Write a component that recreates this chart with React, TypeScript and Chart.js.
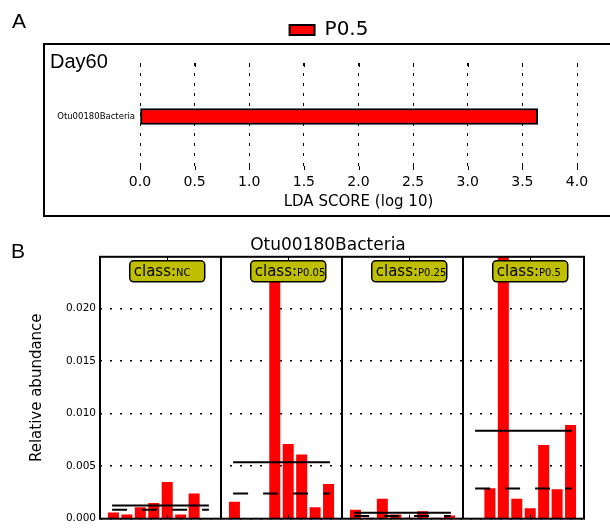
import { useEffect, useRef } from "react";
import { Chart, registerables } from "chart.js";

Chart.register(...registerables);
Chart.defaults.font.family = "'DejaVu Sans', sans-serif";

// ---------- Panel A data (LDA) ----------
const panelATitle = "Day60";
const featureNames = ["Otu00180Bacteria"];
const ldaScores = [3.64];
const ldaClass = ["P0.5"];

// ---------- Panel B data (relative abundance) ----------
const classNames = ["NC", "P0.05", "P0.25", "P0.5"];
const ncAbundance = [0.0006, 0.0004, 0.0011, 0.0015, 0.0035, 0.0004, 0.0024, 0];
const p005Abundance = [0.0016, 0, 0, 0.0237, 0.0071, 0.0061, 0.0011, 0.0033];
const p025Abundance = [0.00085, 0.0001, 0.0019, 0.0004, 0.0001, 0.0007, 0.0001, 0.0003];
const p05Abundance = [0, 0.0029, 0.0422, 0.0019, 0.001, 0.007, 0.0028, 0.0089];
const classMeans = [0.00125, 0.00536, 0.00056, 0.00835];
const classMedians = [0.00085, 0.0024, 0.00025, 0.00288];
const abundanceMax = 0.0249;

const classAbundances = [ncAbundance, p005Abundance, p025Abundance, p05Abundance];
const SLOT = 9; // x units per class panel

const FONT = "'DejaVu Sans', sans-serif";

const panelAPlugin = {
  id: "panelADecor",
  afterDraw(chart: any) {
    const { ctx, chartArea: ca } = chart;
    const xs = chart.scales.x;
    ctx.save();
    ctx.strokeStyle = "#000";
    ctx.lineWidth = 2;
    ctx.strokeRect(44, 44, 700, 172);
    ctx.lineWidth = 1;
    xs.ticks.forEach((t: any) => {
      const px = Math.round(xs.getPixelForValue(t.value)) + 0.5;
      ctx.beginPath();
      ctx.moveTo(px, ca.top);
      ctx.lineTo(px, ca.top + 4);
      ctx.moveTo(px, ca.bottom - 4);
      ctx.lineTo(px, ca.bottom);
      ctx.stroke();
    });
    ctx.fillStyle = "#000";
    ctx.textBaseline = "alphabetic";
    ctx.textAlign = "left";
    ctx.font = "21px 'Liberation Sans', sans-serif";
    ctx.fillText("A", 12, 28);
    ctx.font = "20px 'Liberation Sans', sans-serif";
    ctx.fillText(panelATitle, 50, 68);
    ctx.restore();
  },
};

const panelBPlugin = {
  id: "panelBDecor",
  afterDatasetsDraw(chart: any) {
    const { ctx, chartArea: ca } = chart;
    const xs = chart.scales.x;
    ctx.save();
    // frame
    ctx.strokeStyle = "#000";
    ctx.lineWidth = 2;
    ctx.strokeRect(ca.left, ca.top, ca.right - ca.left, ca.bottom - ca.top);
    // inward ticks at panel centre
    ctx.lineWidth = 1;
    classNames.forEach((_, p) => {
      const px = Math.round(xs.getPixelForValue(p * SLOT + 5)) + 0.5;
      ctx.beginPath();
      ctx.moveTo(px, ca.top);
      ctx.lineTo(px, ca.top + 4);
      ctx.moveTo(px, ca.bottom - 4);
      ctx.lineTo(px, ca.bottom);
      ctx.stroke();
    });
    // class label boxes
    classNames.forEach((name, p) => {
      const cx = xs.getPixelForValue(p * SLOT + 5);
      const w = 75;
      const h = 21;
      const left = cx - w / 2;
      const top = ca.top + 4;
      ctx.beginPath();
      (ctx as any).roundRect(left, top, w, h, 4);
      ctx.fillStyle = "#bfbf00";
      ctx.fill();
      ctx.lineWidth = 1.5;
      ctx.strokeStyle = "#000";
      ctx.stroke();
      ctx.fillStyle = "#000";
      ctx.textBaseline = "alphabetic";
      ctx.textAlign = "left";
      ctx.font = `15px ${FONT}`;
      ctx.fillText("class:", left + 4, top + 15.5);
      const cw = ctx.measureText("class:").width;
      ctx.font = `10px ${FONT}`;
      ctx.fillText(name, left + 4 + cw, top + 15.5);
    });
    ctx.fillStyle = "#000";
    ctx.font = "21px 'Liberation Sans', sans-serif";
    ctx.textBaseline = "alphabetic";
    ctx.fillText("B", 11, 36);
    ctx.restore();
  },
};

export default function App() {
  const refA = useRef<HTMLCanvasElement>(null);
  const refB = useRef<HTMLCanvasElement>(null);

  useEffect(() => {
    const chartA = new Chart(refA.current as HTMLCanvasElement, {
      type: "bar",
      data: {
        labels: featureNames,
        datasets: [
          {
            label: ldaClass[0],
            data: ldaScores,
            backgroundColor: "#ff0000",
            borderColor: "#000",
            borderWidth: 2,
            borderSkipped: false,
            barThickness: 16,
          } as any,
        ],
      },
      options: {
        indexAxis: "y",
        animation: false,
        responsive: false,
        events: [],
        layout: { padding: { left: 0, right: 0, top: 10, bottom: 0 } },
        plugins: {
          legend: {
            display: true,
            position: "top",
            labels: {
              font: { family: FONT, size: 20 },
              color: "#000",
              boxWidth: 25,
              boxHeight: 10,
              padding: 10,
            },
          },
          tooltip: { enabled: false },
          title: { display: false },
        },
        scales: {
          x: {
            type: "linear",
            position: "bottom",
            min: 0,
            max: 4,
            ticks: {
              stepSize: 0.5,
              callback: (v: any) => Number(v).toFixed(1),
              font: { family: FONT, size: 14 },
              color: "#000",
              padding: 4,
            },
            grid: { color: "#000", lineWidth: 1, drawTicks: false },
            border: { display: false, dash: [3, 7] },
            title: {
              display: true,
              text: "LDA SCORE (log 10)",
              font: { family: FONT, size: 15 },
              color: "#000",
              padding: { top: 0, bottom: 11 },
            },
            afterFit: (s: any) => {
              s.height = 52;
            },
          },
          xTop: {
            type: "linear",
            position: "top",
            display: true,
            ticks: { display: false },
            grid: { display: false, drawTicks: false },
            border: { display: false },
            afterFit: (s: any) => {
              s.height = 13;
            },
          },
          y: {
            type: "category",
            position: "left",
            ticks: { font: { family: FONT, size: 8.5 }, color: "#000", padding: 5 },
            grid: { display: false, drawTicks: false },
            border: { display: false },
            afterFit: (s: any) => {
              s.width = 140;
            },
          },
          yRight: {
            type: "category",
            position: "right",
            display: true,
            ticks: { display: false },
            grid: { display: false, drawTicks: false },
            border: { display: false },
            afterFit: (s: any) => {
              s.width = 81;
            },
          },
        } as any,
      },
      plugins: [panelAPlugin],
    });

    const barPoints: { x: number; y: number }[] = [];
    classAbundances.forEach((vals, p) => {
      vals.forEach((v, i) => barPoints.push({ x: p * SLOT + 1 + i, y: v }));
    });
    const meanPoints: { x: number; y: number | null }[] = [];
    const medianPoints: { x: number; y: number | null }[] = [];
    classNames.forEach((_, p) => {
      const x0 = p * SLOT + 1 - 0.1;
      const x1 = p * SLOT + classAbundances[p].length + 0.1;
      meanPoints.push({ x: x0, y: classMeans[p] }, { x: x1, y: classMeans[p] }, { x: x1 + 0.3, y: null });
      medianPoints.push({ x: x0, y: classMedians[p] }, { x: x1, y: classMedians[p] }, { x: x1 + 0.3, y: null });
    });

    const chartB = new Chart(refB.current as HTMLCanvasElement, {
      type: "bar",
      data: {
        datasets: [
          {
            type: "line",
            label: "mean",
            data: meanPoints,
            borderColor: "#000",
            borderWidth: 2,
            pointRadius: 0,
            spanGaps: false,
            order: 0,
          } as any,
          {
            type: "line",
            label: "median",
            data: medianPoints,
            borderColor: "#000",
            borderWidth: 2,
            borderDash: [15, 15],
            pointRadius: 0,
            spanGaps: false,
            order: 0,
          } as any,
          {
            type: "bar",
            label: "abundance",
            data: barPoints,
            backgroundColor: "#ff0000",
            borderWidth: 0,
            barPercentage: 0.82,
            categoryPercentage: 1,
            order: 1,
          } as any,
        ],
      },
      options: {
        animation: false,
        responsive: false,
        events: [],
        layout: { padding: { left: 0, right: 0, top: 0, bottom: 3 } },
        plugins: {
          legend: { display: false },
          tooltip: { enabled: false },
          title: {
            display: true,
            text: featureNames[0],
            font: { family: FONT, size: 17, weight: "normal" },
            color: "#000",
            padding: { top: 13, bottom: 1.4 },
          },
        },
        scales: {
          x: {
            type: "linear",
            min: 0,
            max: classNames.length * SLOT,
            offset: false,
            ticks: { display: false, stepSize: SLOT },
            grid: { color: "#000", lineWidth: 2, drawTicks: false, offset: false },
            border: { display: false },
            afterFit: (s: any) => {
              s.height = 0;
            },
          },
          y: {
            type: "linear",
            position: "left",
            min: 0,
            max: abundanceMax,
            ticks: {
              stepSize: 0.005,
              includeBounds: false,
              callback: (v: any) => Number(v).toFixed(3),
              font: { family: FONT, size: 10.5 },
              color: "#000",
              padding: 4,
            },
            grid: { color: "#000", lineWidth: 1.5, drawTicks: false },
            border: { display: false, dash: [2, 8] },
            title: {
              display: true,
              text: "Relative abundance",
              font: { family: FONT, size: 15 },
              color: "#000",
              padding: { top: 28, bottom: 0 },
            },
            afterFit: (s: any) => {
              s.width = 100;
            },
          },
          yRight: {
            type: "linear",
            position: "right",
            display: true,
            ticks: { display: false },
            grid: { display: false, drawTicks: false },
            border: { display: false },
            afterFit: (s: any) => {
              s.width = 72;
            },
          },
        } as any,
      },
      plugins: [panelBPlugin],
    });

    return () => {
      chartA.destroy();
      chartB.destroy();
    };
  }, []);

  return (
    <div
      style={{
        position: "fixed",
        left: 0,
        top: 0,
        width: 610,
        height: 529,
        overflow: "hidden",
        background: "#fff",
      }}
    >
      <canvas
        ref={refA}
        width={658}
        height={222}
        style={{ position: "absolute", left: 0, top: 0, width: 658, height: 222 }}
      />
      <canvas
        ref={refB}
        width={656}
        height={307}
        style={{ position: "absolute", left: 0, top: 222, width: 656, height: 307 }}
      />
    </div>
  );
}
